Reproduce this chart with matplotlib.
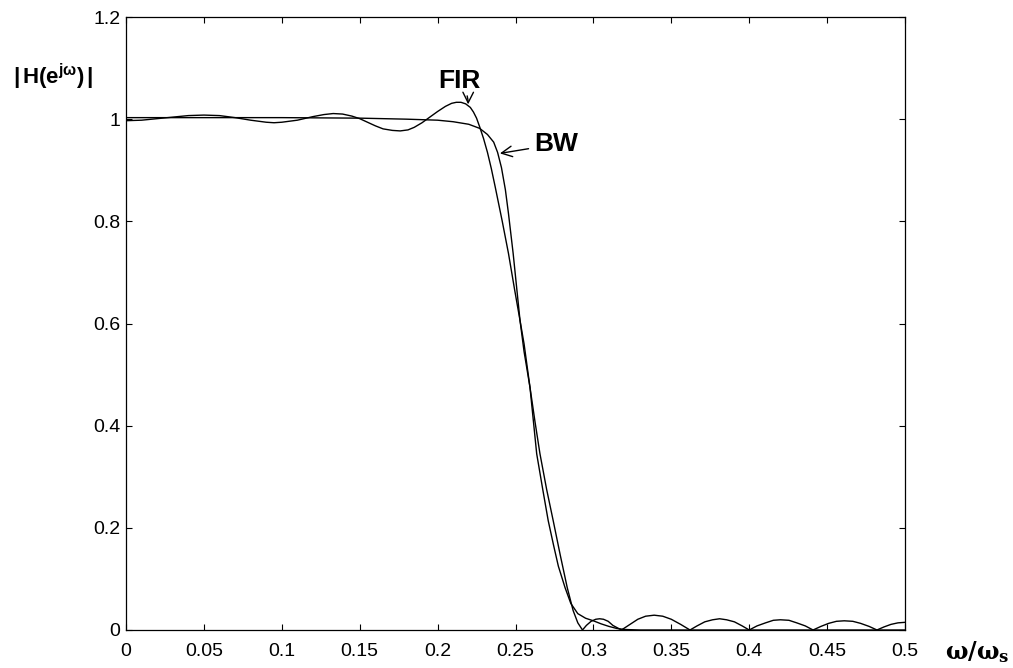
import matplotlib
matplotlib.use("Agg")
import matplotlib.pyplot as plt

# ---- data ----
fir_x = [0.000, 0.010, 0.020, 0.030, 0.040, 0.050, 0.060, 0.070, 0.080, 0.090,
         0.095, 0.100, 0.110, 0.120, 0.127, 0.133, 0.139, 0.145, 0.150, 0.155,
         0.160, 0.165, 0.171, 0.176, 0.181, 0.185, 0.190, 0.195, 0.200, 0.205,
         0.209, 0.212, 0.215, 0.218, 0.221, 0.223, 0.225, 0.227, 0.2295, 0.232,
         0.2345, 0.237, 0.2415, 0.2455,
         0.2495, 0.2529, 0.2555, 0.2593, 0.2625, 0.2657, 0.270, 0.2742, 0.2787, 0.2832,
         0.287, 0.290, 0.293,
         0.2955, 0.2985, 0.3015, 0.304, 0.3065, 0.3095, 0.3125, 0.318,
         0.3235, 0.3285, 0.3335, 0.339, 0.3445, 0.350, 0.356, 0.362,
         0.3665, 0.3715, 0.3765, 0.381, 0.3855, 0.3905, 0.3955, 0.400,
         0.4050, 0.4105, 0.4155, 0.420, 0.4255, 0.4305, 0.4360, 0.441,
         0.4460, 0.4510, 0.4560, 0.461, 0.4665, 0.4715, 0.4770, 0.482,
         0.4865, 0.4910, 0.4955, 0.500]
fir_y = [0.997, 0.998, 1.001, 1.004, 1.007, 1.008, 1.007, 1.003, 0.998, 0.994,
         0.993, 0.994, 0.998, 1.005, 1.009, 1.011, 1.010, 1.006, 1.001, 0.994,
         0.987, 0.981, 0.978, 0.977, 0.979, 0.984, 0.993, 1.004, 1.015, 1.025,
         1.031, 1.033, 1.033, 1.030, 1.023, 1.014, 1.002, 0.985, 0.962, 0.935,
         0.903, 0.867, 0.800, 0.737,
         0.665, 0.606, 0.560, 0.475, 0.408, 0.345, 0.275, 0.214, 0.147, 0.083,
         0.038, 0.014, 0.000,
         0.009, 0.017, 0.021, 0.022, 0.021, 0.017, 0.009, 0.000,
         0.011, 0.021, 0.027, 0.029, 0.027, 0.021, 0.011, 0.000,
         0.008, 0.016, 0.020, 0.022, 0.020, 0.016, 0.008, 0.000,
         0.008, 0.014, 0.019, 0.020, 0.019, 0.014, 0.008, 0.000,
         0.007, 0.013, 0.017, 0.018, 0.017, 0.013, 0.007, 0.000,
         0.006, 0.011, 0.014, 0.015]

bw_x = [0.000, 0.050, 0.100, 0.150, 0.180, 0.200, 0.210, 0.220, 0.227, 0.232,
        0.236, 0.2385, 0.241, 0.2435, 0.2455, 0.2485, 0.2529, 0.2555, 0.2593, 0.2636, 0.2675,
        0.271, 0.2745, 0.2775, 0.2818, 0.2855, 0.290, 0.295, 0.300, 0.305, 0.310,
        0.315, 0.320, 0.330, 0.500]
bw_y = [1.003, 1.003, 1.003, 1.002, 1.000, 0.998, 0.995, 0.990, 0.982, 0.970,
        0.955, 0.935, 0.905, 0.862, 0.815, 0.737, 0.606, 0.545, 0.475, 0.345, 0.275,
        0.214, 0.165, 0.125, 0.083, 0.052, 0.032, 0.023, 0.018, 0.012, 0.007,
        0.003, 0.001, 0.000, 0.000]

x_ticks = [0, 0.05, 0.1, 0.15, 0.2, 0.25, 0.3, 0.35, 0.4, 0.45, 0.5]
x_tick_labels = ["0", "0.05", "0.1", "0.15", "0.2", "0.25", "0.3", "0.35", "0.4", "0.45", "0.5"]
y_ticks = [0, 0.2, 0.4, 0.6, 0.8, 1.0, 1.2]
y_tick_labels = ["0", "0.2", "0.4", "0.6", "0.8", "1", "1.2"]

plt.rcParams['font.family'] = ['Liberation Sans', 'DejaVu Sans']
plt.rcParams['mathtext.fontset'] = 'custom'
plt.rcParams['mathtext.rm'] = 'Liberation Sans'
plt.rcParams['mathtext.bf'] = 'Liberation Sans:bold'
plt.rcParams['mathtext.it'] = 'Liberation Sans:italic'

fig = plt.figure(figsize=(10.13, 6.68), dpi=100)
ax = fig.add_axes([126/1013, 1 - 630/668, (905-126)/1013, (630-17)/668])

ax.plot(bw_x, bw_y, color='black', lw=1.0)
ax.plot(fir_x, fir_y, color='black', lw=1.0)

ax.set_xlim(0, 0.5)
ax.set_ylim(0, 1.2)
ax.set_xticks(x_ticks)
ax.set_xticklabels(x_tick_labels)
ax.set_yticks(y_ticks)
ax.set_yticklabels(y_tick_labels)
ax.tick_params(direction='in', length=4.5, width=0.8, top=True, right=True,
               labelsize=14, colors='black')
ax.tick_params(axis='x', pad=9)
ax.tick_params(axis='y', pad=4)
for s in ax.spines.values():
    s.set_linewidth(0.9)

# axis labels placed as in the reference
fig.text(13/1013, 1 - 77/668, r'$\mathbf{|\,H(e^{j\omega})\,|}$', fontsize=16,
         ha='left', va='center')
fig.text(977/1013, 1 - 652/668, r'$\mathbf{\omega/\omega_s}$', fontsize=17,
         ha='center', va='center', math_fontfamily='dejavuserif')

# annotations
ax.annotate('FIR', xy=(0.2196, 1.029), xytext=(0.2137, 1.0745),
            fontsize=19, fontweight='bold', ha='center', va='center',
            arrowprops=dict(arrowstyle='->', color='black', lw=1.0,
                            shrinkA=0, shrinkB=0, connectionstyle='arc3,rad=-0.2'))
ax.annotate('BW', xy=(0.240, 0.933), xytext=(0.276, 0.951),
            fontsize=19, fontweight='bold', ha='center', va='center',
            arrowprops=dict(arrowstyle='->', color='black', lw=1.0,
                            shrinkA=2, shrinkB=0))

fig.savefig('out.png', dpi=100, facecolor='white')
